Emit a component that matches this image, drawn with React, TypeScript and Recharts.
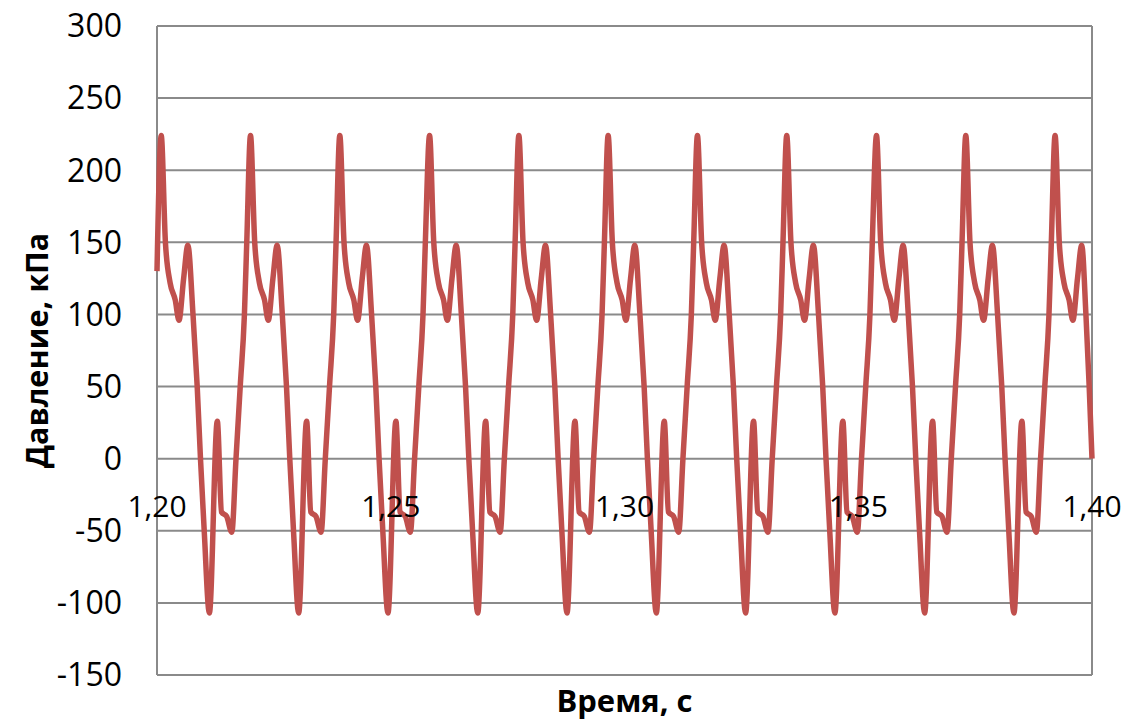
import { LineChart, Line, XAxis, YAxis, CartesianGrid, ReferenceDot } from 'recharts';

// Pressure trace, 1.20–1.40 s
const LINE_RED = '#C0504D';
const GRID = '#8a8a8a';
const FONT = "'Open Sans', sans-serif";

const timeTicks = [1.2, 1.25, 1.3, 1.35, 1.4];
const pressureTicks = [-150, -100, -50, 0, 50, 100, 150, 200, 250, 300];

// time, s
const time = [
  1.2000,
  1.2009, 1.2018, 1.2028, 1.2039, 1.2047, 1.2057, 1.2066, 1.2077, 1.2086, 1.2093, 1.2101, 1.2112, 1.2129, 1.2138, 1.2149, 1.2160, 1.2169, 1.2178, 1.2187, 1.2192,
  1.2200, 1.2209, 1.2219, 1.2230, 1.2238, 1.2248, 1.2257, 1.2268, 1.2277, 1.2284, 1.2292, 1.2303, 1.2320, 1.2329, 1.2340, 1.2351, 1.2360, 1.2369, 1.2378, 1.2383,
  1.2391, 1.2400, 1.2410, 1.2421, 1.2429, 1.2439, 1.2448, 1.2459, 1.2468, 1.2475, 1.2483, 1.2494, 1.2511, 1.2520, 1.2531, 1.2542, 1.2551, 1.2560, 1.2569, 1.2574,
  1.2583, 1.2592, 1.2602, 1.2613, 1.2621, 1.2631, 1.2640, 1.2651, 1.2660, 1.2667, 1.2675, 1.2686, 1.2703, 1.2712, 1.2723, 1.2734, 1.2743, 1.2752, 1.2761, 1.2766,
  1.2774, 1.2783, 1.2793, 1.2804, 1.2812, 1.2822, 1.2831, 1.2842, 1.2851, 1.2858, 1.2866, 1.2877, 1.2894, 1.2903, 1.2914, 1.2925, 1.2934, 1.2943, 1.2952, 1.2957,
  1.2965, 1.2974, 1.2984, 1.2995, 1.3003, 1.3013, 1.3022, 1.3033, 1.3042, 1.3049, 1.3057, 1.3068, 1.3085, 1.3094, 1.3105, 1.3116, 1.3125, 1.3134, 1.3143, 1.3148,
  1.3156, 1.3165, 1.3175, 1.3186, 1.3194, 1.3204, 1.3213, 1.3224, 1.3233, 1.3240, 1.3248, 1.3259, 1.3276, 1.3285, 1.3296, 1.3307, 1.3316, 1.3325, 1.3334, 1.3339,
  1.3347, 1.3356, 1.3366, 1.3377, 1.3385, 1.3395, 1.3404, 1.3415, 1.3424, 1.3431, 1.3439, 1.3450, 1.3467, 1.3476, 1.3487, 1.3498, 1.3507, 1.3516, 1.3525, 1.3530,
  1.3539, 1.3548, 1.3558, 1.3569, 1.3577, 1.3587, 1.3596, 1.3607, 1.3616, 1.3623, 1.3631, 1.3642, 1.3659, 1.3668, 1.3679, 1.3690, 1.3699, 1.3708, 1.3717, 1.3722,
  1.3730, 1.3739, 1.3749, 1.3760, 1.3768, 1.3778, 1.3787, 1.3798, 1.3807, 1.3814, 1.3822, 1.3833, 1.3850, 1.3859, 1.3870, 1.3881, 1.3890, 1.3899, 1.3908, 1.3913,
  1.3921, 1.3930, 1.3940, 1.3951, 1.3959, 1.3969, 1.3978, 1.3987, 1.3994, 1.4000,
];

// pressure, kPa
const pressure = [
  130,
  224, 150, 122, 110, 96, 125, 148, 100, 50, 0, -50, -107, 26, -37, -40, -51, 0, 50, 100, 150,
  224, 150, 122, 110, 96, 125, 148, 100, 50, 0, -50, -107, 26, -37, -40, -51, 0, 50, 100, 150,
  224, 150, 122, 110, 96, 125, 148, 100, 50, 0, -50, -107, 26, -37, -40, -51, 0, 50, 100, 150,
  224, 150, 122, 110, 96, 125, 148, 100, 50, 0, -50, -107, 26, -37, -40, -51, 0, 50, 100, 150,
  224, 150, 122, 110, 96, 125, 148, 100, 50, 0, -50, -107, 26, -37, -40, -51, 0, 50, 100, 150,
  224, 150, 122, 110, 96, 125, 148, 100, 50, 0, -50, -107, 26, -37, -40, -51, 0, 50, 100, 150,
  224, 150, 122, 110, 96, 125, 148, 100, 50, 0, -50, -107, 26, -37, -40, -51, 0, 50, 100, 150,
  224, 150, 122, 110, 96, 125, 148, 100, 50, 0, -50, -107, 26, -37, -40, -51, 0, 50, 100, 150,
  224, 150, 122, 110, 96, 125, 148, 100, 50, 0, -50, -107, 26, -37, -40, -51, 0, 50, 100, 150,
  224, 150, 122, 110, 96, 125, 148, 100, 50, 0, -50, -107, 26, -37, -40, -51, 0, 50, 100, 150,
  224, 150, 122, 110, 96, 125, 148, 100, 50, 0,
];

const rows = time.map((t, i) => ({ t, p: pressure[i] }));

const fmtTime = (v: number) => v.toFixed(2).replace('.', ',');

export default function App() {
  return (
    <div style={{ position: 'fixed', left: 0, top: 0, width: 1137, height: 720, background: 'white', fontFamily: FONT }}>
      <LineChart width={1137} height={720} data={rows} margin={{ top: 26, right: 45, bottom: 0, left: 0 }}>
        <CartesianGrid stroke={GRID} strokeWidth={2} />
        <XAxis
          dataKey="t" type="number" domain={[1.2, 1.4]} ticks={timeTicks}
          tick={false} tickLine={false} axisLine={false} height={45}
          label={{ value: 'Время, с', position: 'insideBottom', offset: 8, fontSize: 31, fontWeight: 700, fill: '#000' }}
        />
        <YAxis
          type="number" domain={[-150, 300]} ticks={pressureTicks} width={157}
          tickLine={false} axisLine={false} tickSize={0} tickMargin={35}
          tick={{ fontSize: 32, fill: '#000' }}
          label={{ value: 'Давление, кПа', angle: -90, position: 'center', dx: -41, fontSize: 30.5, fontWeight: 700, fill: '#000' }}
        />
        {/* time labels sit on the zero line, like an axis crossing at 0 */}
        {timeTicks.map(t => (
          <ReferenceDot key={t} x={t} y={0} r={0} stroke="none" fill="none"
            label={{ value: fmtTime(t), position: 'bottom', offset: 37, fontSize: 30, fill: '#000' }} />
        ))}
        <Line dataKey="p" type="monotone" stroke={LINE_RED} strokeWidth={5.5} dot={false} isAnimationActive={false} />
      </LineChart>
    </div>
  );
}
